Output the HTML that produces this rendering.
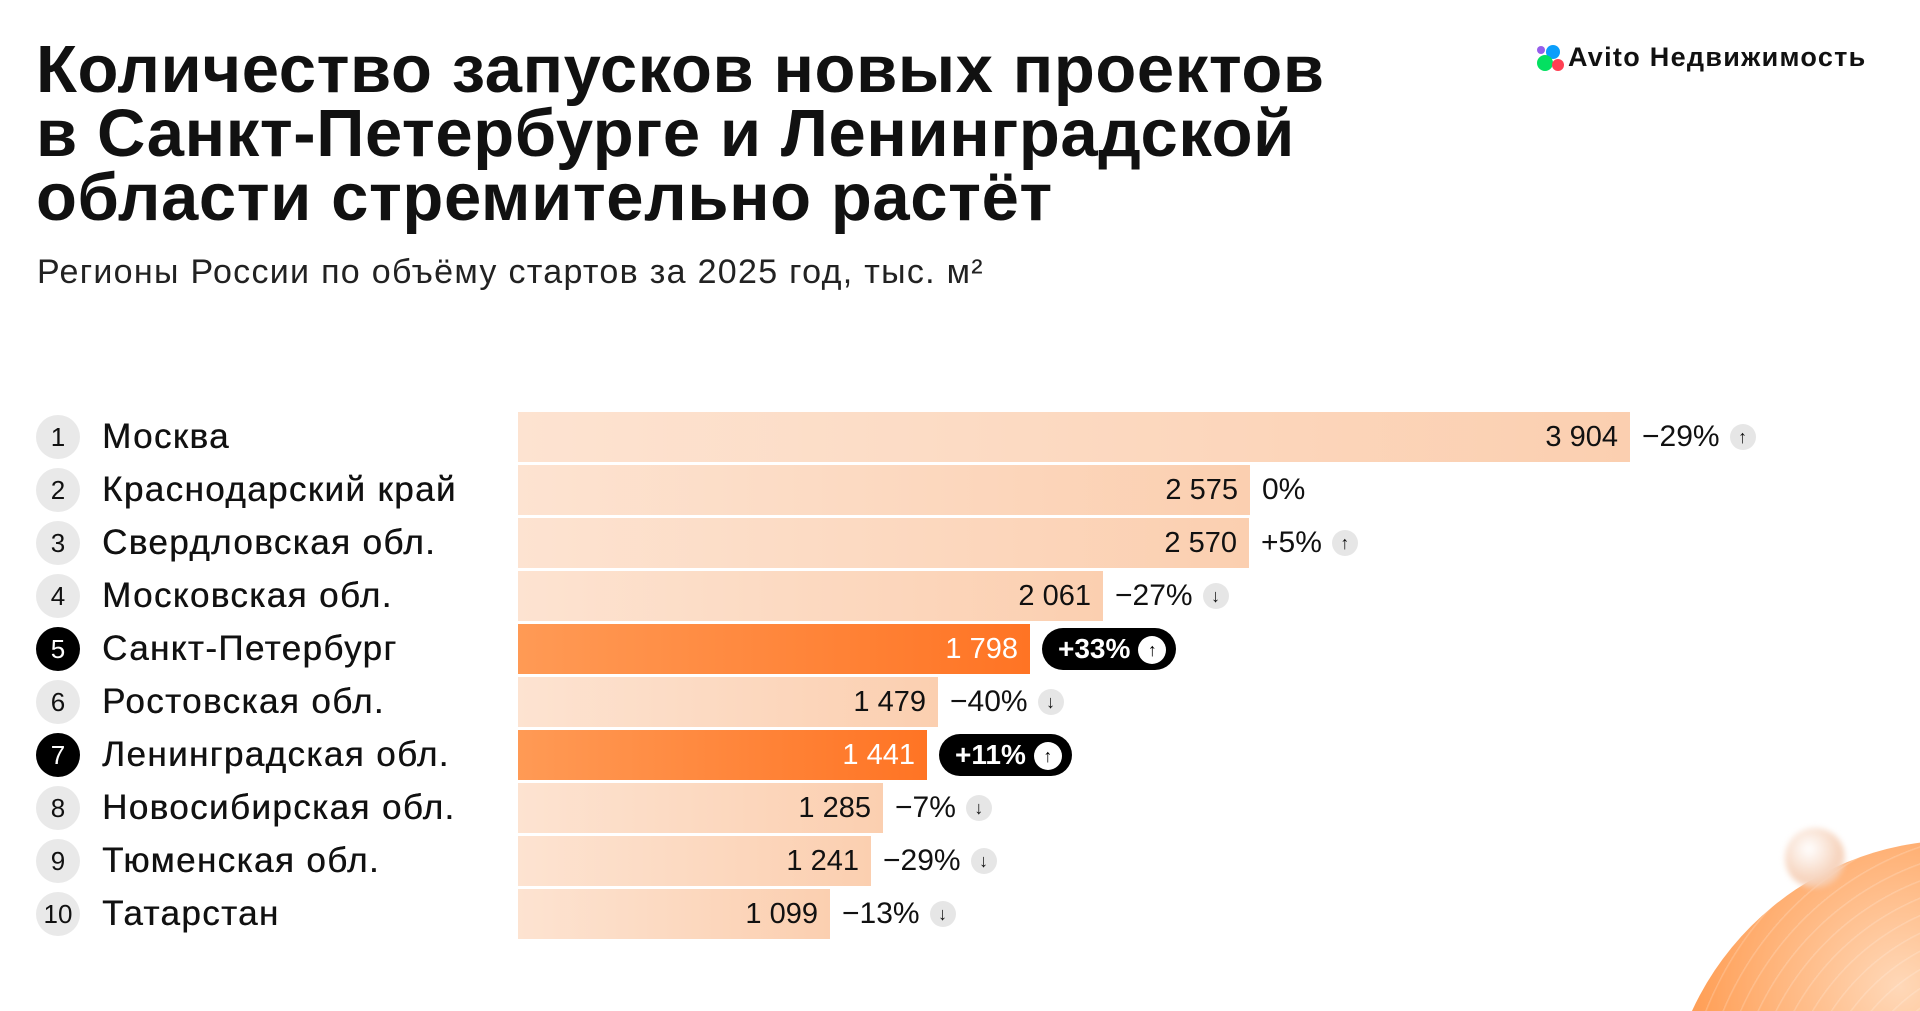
<!DOCTYPE html>
<html><head><meta charset="utf-8"><style>
html{width:1920px;height:1011px;overflow:hidden}
body{margin:0;width:1920px;height:1011px;background:#fff;overflow:hidden;position:relative;font-family:"Liberation Sans",sans-serif;color:#111}
#w{position:absolute;left:0;top:0;width:1920px;height:1011px;overflow:hidden}
.t{position:absolute;left:36px;top:38px;font-size:67px;font-weight:bold;line-height:64px;letter-spacing:0.6px}
.s{position:absolute;left:37px;top:253px;font-size:34px;color:#222;letter-spacing:1.3px}
.logo{position:absolute;left:1568px;top:42px;font-size:27px;font-weight:bold;letter-spacing:1.3px}
.row{position:absolute;left:0;height:50px;width:1920px}
.c{position:absolute;left:36px;top:3px;width:44px;height:44px;border-radius:50%;background:#e9e9e9;font-size:26px;text-align:center;line-height:44px}
.c.k{background:#000;color:#fff}
.l{position:absolute;left:102px;top:0;line-height:50px;font-size:35px;letter-spacing:1.4px;text-shadow:0.4px 0 0 #111}
.b{position:absolute;left:518px;top:0;height:50px;background:linear-gradient(90deg,#fde3d1,#fbcfb0)}
.b.h{background:linear-gradient(90deg,#ff9a55,#ff7424)}
.v{position:absolute;right:12px;top:0;line-height:50px;font-size:29px}
.b.h .v{color:#fff}
.p{position:absolute;top:0;line-height:50px;font-size:30px;white-space:nowrap}
.a{display:inline-block;width:26px;height:26px;border-radius:50%;background:#e6e6e6;font-size:18px;line-height:26px;text-align:center;vertical-align:3px;margin-left:10px;font-weight:bold}
.pill{position:absolute;top:4px;height:42px;border-radius:21px;background:#000;color:#fff;font-size:28px;font-weight:bold;line-height:42px;padding:0 10px 0 16px;white-space:nowrap}
.pill .a{background:#fff;color:#000;width:28px;height:28px;line-height:28px;margin-left:8px;vertical-align:2px}
</style></head><body><div id="w">
<div class="t">Количество запусков новых проектов<br>в Санкт-Петербурге и Ленинградской<br>области стремительно растёт</div>
<div class="s">Регионы России по объёму стартов за 2025 год, тыс. м²</div>
<div class="logo"><svg width="30" height="28" style="position:absolute;left:-32px;top:2px"><circle cx="5" cy="6" r="4" fill="#965eeb"/><circle cx="17" cy="8" r="7" fill="#0a9efb"/><circle cx="9" cy="19" r="8" fill="#04e061"/><circle cx="22" cy="21" r="6" fill="#ff4053"/></svg>Avito Недвижимость</div>

<div class="row" style="top:412px"><div class="c">1</div><div class="l">Москва</div><div class="b" style="width:1112px"><span class="v">3 904</span></div><div class="p" style="left:1642px">−29%<span class="a">↑</span></div></div>
<div class="row" style="top:465px"><div class="c">2</div><div class="l">Краснодарский край</div><div class="b" style="width:732px"><span class="v">2 575</span></div><div class="p" style="left:1262px">0%</div></div>
<div class="row" style="top:518px"><div class="c">3</div><div class="l">Свердловская обл.</div><div class="b" style="width:731px"><span class="v">2 570</span></div><div class="p" style="left:1261px">+5%<span class="a">↑</span></div></div>
<div class="row" style="top:571px"><div class="c">4</div><div class="l">Московская обл.</div><div class="b" style="width:585px"><span class="v">2 061</span></div><div class="p" style="left:1115px">−27%<span class="a">↓</span></div></div>
<div class="row" style="top:624px"><div class="c k">5</div><div class="l">Санкт-Петербург</div><div class="b h" style="width:512px"><span class="v">1 798</span></div><div class="pill" style="left:1042px">+33%<span class="a">↑</span></div></div>
<div class="row" style="top:677px"><div class="c">6</div><div class="l">Ростовская обл.</div><div class="b" style="width:420px"><span class="v">1 479</span></div><div class="p" style="left:950px">−40%<span class="a">↓</span></div></div>
<div class="row" style="top:730px"><div class="c k">7</div><div class="l">Ленинградская обл.</div><div class="b h" style="width:409px"><span class="v">1 441</span></div><div class="pill" style="left:939px">+11%<span class="a">↑</span></div></div>
<div class="row" style="top:783px"><div class="c">8</div><div class="l">Новосибирская обл.</div><div class="b" style="width:365px"><span class="v">1 285</span></div><div class="p" style="left:895px">−7%<span class="a">↓</span></div></div>
<div class="row" style="top:836px"><div class="c">9</div><div class="l">Тюменская обл.</div><div class="b" style="width:353px"><span class="v">1 241</span></div><div class="p" style="left:883px">−29%<span class="a">↓</span></div></div>
<div class="row" style="top:889px"><div class="c">10</div><div class="l">Татарстан</div><div class="b" style="width:312px"><span class="v">1 099</span></div><div class="p" style="left:842px">−13%<span class="a">↓</span></div></div>

<div style="position:absolute;left:1665px;top:840px;width:588px;height:588px;border-radius:50%;background:repeating-radial-gradient(circle at 60% 50%,rgba(255,255,255,0) 0 14px,rgba(255,255,255,0.18) 15px 16px),radial-gradient(circle at 40% 25%,#ffd8b8,#ffa15a 35%,#f07a2a 65%)"></div>
<div style="position:absolute;left:1785px;top:828px;width:60px;height:60px;border-radius:50%;background:radial-gradient(circle at 40% 35%,#fff,#f6d2bb 60%,rgba(255,255,255,0));filter:blur(3px)"></div>
</div></body></html>
